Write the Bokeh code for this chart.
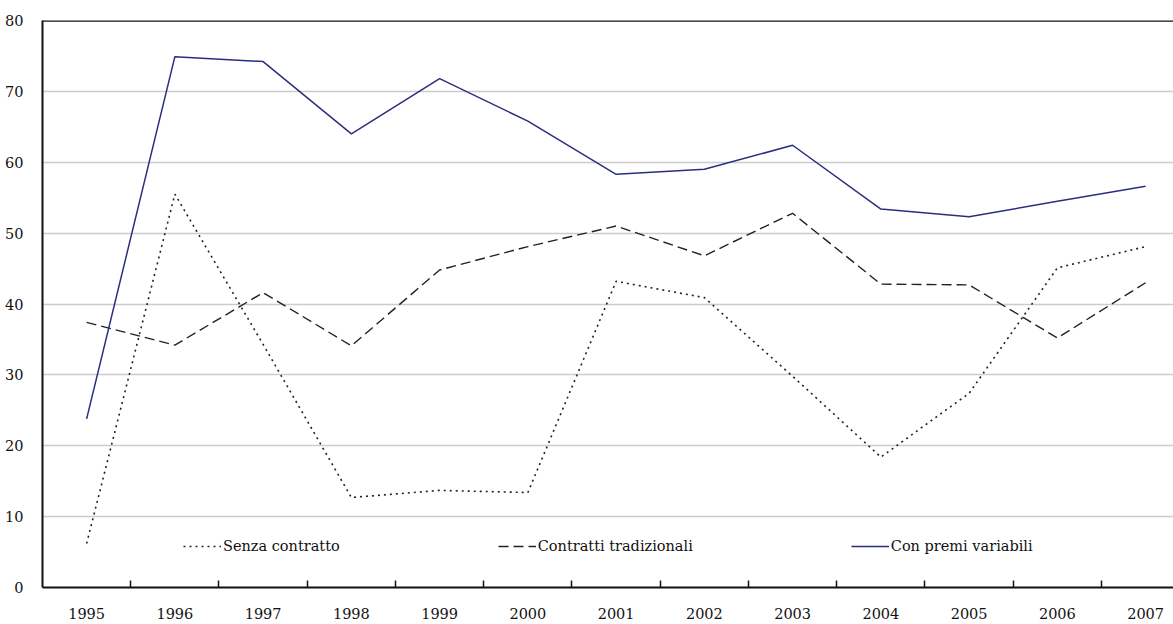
from bokeh.plotting import figure
from bokeh.models import (ColumnDataSource, FixedTicker, Range1d, Legend, LegendItem, Span)
from bokeh.embed import file_html
from bokeh.resources import INLINE

years = [1995, 1996, 1997, 1998, 1999, 2000, 2001, 2002, 2003, 2004, 2005, 2006, 2007]
senza_contratto = [6.2, 55.5, 34.3, 12.7, 13.7, 13.4, 43.2, 40.9, 29.8, 18.4, 27.4, 45.1, 48.1]
contratti_tradizionali = [37.4, 34.2, 41.6, 34.1, 44.8, 48.1, 51.0, 46.8, 52.8, 42.8, 42.7, 35.2, 43.0]
con_premi_variabili = [23.8, 74.9, 74.2, 64.0, 71.8, 65.8, 58.3, 59.0, 62.4, 53.4, 52.3, 54.5, 56.6]
y_ticks = [0, 10, 20, 30, 40, 50, 60, 70, 80]
series_labels = ["Senza contratto", "Contratti tradizionali", "Con premi variabili"]

FONT = "DejaVu Serif"
FSIZE = "14.5px"

source = ColumnDataSource(dict(
    year=years, senza=senza_contratto, trad=contratti_tradizionali, premi=con_premi_variabili))

p = figure(frame_width=1131, frame_height=567, output_backend="svg", toolbar_location=None,
           x_range=Range1d(1994.5, 2007.316), y_range=Range1d(0, 80))
p.min_border_left = 42
p.min_border_right = 0
p.min_border_top = 20
p.min_border_bottom = 35
p.title.visible = False
p.outline_line_color = None
p.background_fill_color = "white"

# grid
p.xgrid.visible = False
p.ygrid.ticker = FixedTicker(ticks=y_ticks[1:-1])
p.ygrid.grid_line_color = "#cccccc"
p.ygrid.grid_line_width = 1.5

# y axis
p.yaxis.ticker = FixedTicker(ticks=y_ticks)
p.yaxis.axis_line_color = "#111111"
p.yaxis.axis_line_width = 2
p.yaxis.major_tick_line_color = None
p.yaxis.minor_tick_line_color = None
p.yaxis.major_label_standoff = 13
p.yaxis.major_label_text_font = FONT
p.yaxis.major_label_text_font_size = FSIZE
p.yaxis.major_label_text_color = "#111111"

# x axis
p.xaxis.ticker = FixedTicker(ticks=years, minor_ticks=[y + 0.5 for y in years[:-1]])
p.xaxis.axis_line_color = "#111111"
p.xaxis.axis_line_width = 2
p.xaxis.major_tick_line_color = None
p.xaxis.minor_tick_line_color = "#111111"
p.xaxis.minor_tick_line_width = 1.5
p.xaxis.minor_tick_in = 7
p.xaxis.minor_tick_out = 0
p.xaxis.major_label_standoff = 14
p.xaxis.major_label_text_font = FONT
p.xaxis.major_label_text_font_size = FSIZE
p.xaxis.major_label_text_color = "#111111"

# top border
p.add_layout(Span(location=80, dimension="width", line_color="#111111", line_width=2.5))

r1 = p.line("year", "senza", source=source, line_color="#222222", line_width=1.6, line_dash="2 4")
r2 = p.line("year", "trad", source=source, line_color="#222222", line_width=1.4, line_dash="10 5")
r3 = p.line("year", "premi", source=source, line_color="#2b2e7e", line_width=1.5)

legend = Legend(items=[LegendItem(label=series_labels[0], renderers=[r1]),
                       LegendItem(label=series_labels[1], renderers=[r2]),
                       LegendItem(label=series_labels[2], renderers=[r3])],
                orientation="horizontal", location=(141, 31),
                glyph_width=38, glyph_height=20, label_height=20, label_standoff=2,
                spacing=158, padding=0, margin=0,
                border_line_color=None, background_fill_alpha=0,
                label_text_font=FONT, label_text_font_size=FSIZE, label_text_color="#111111")
p.add_layout(legend, "center")

open("out.html", "w").write(file_html(p, INLINE))
